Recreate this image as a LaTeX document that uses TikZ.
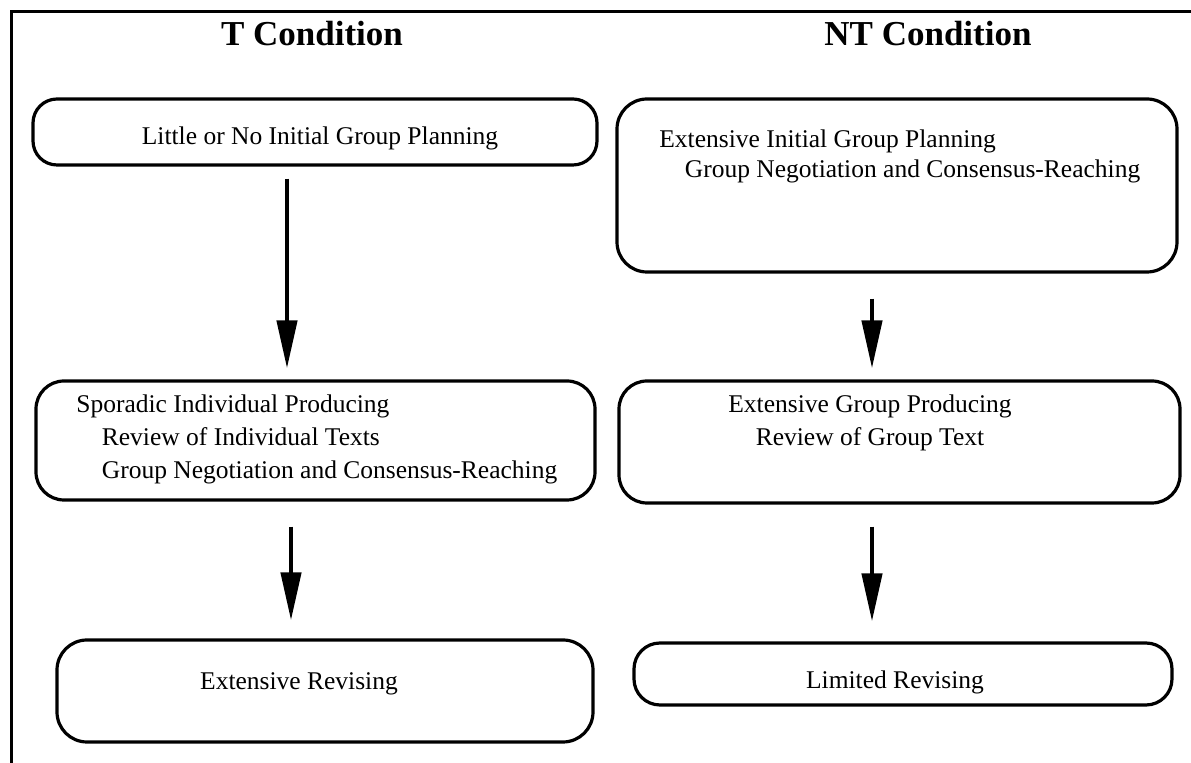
\documentclass[tikz,border=0pt]{standalone}
\usepackage{fontspec}
\setmainfont{Liberation Serif}
\usetikzlibrary{arrows.meta,positioning,calc}

\begin{document}
\begin{tikzpicture}[x=0.5pt, y=-0.5pt,
    stage/.style={draw, line width=1.6pt, rounded corners=13pt, inner sep=0pt},
    txt/.style={inner sep=0pt, font=\fontsize{12.75}{16.5}\selectfont},
    cond/.style={inner sep=0pt, font=\fontsize{17.5}{21}\selectfont\bfseries},
    flow/.style={line width=2.2pt, -{Triangle[length=24pt,width=10pt]}}]
  \useasboundingbox (0,0) rectangle (1191,763);
  \draw[line width=1.5pt] (11,763) -- (11,12) -- (1191,12);

  \node[cond, anchor=base] (tcond) at (312,46) {T Condition};
  \node[cond, anchor=base] (ntcond) at (928,46) {NT Condition};

  % T condition
  \node[stage, rounded corners=12pt, minimum width=282pt, minimum height=33pt] (t1) at (315,132) {};
  \node[txt, anchor=base] (t1_txt) at (320,145) {Little or No Initial Group Planning};
  \node[stage, rounded corners=14pt, minimum width=279.5pt, minimum height=59.5pt] (t2) at (315.5,440.5) {};
  \node[txt, anchor=base west] (t2_txt) at (76,413) {\begin{tabular}[t]{@{}l@{}} Sporadic Individual Producing \\ \quad Review of Individual Texts \\ \quad Group Negotiation and Consensus-Reaching \end{tabular}};
  \node[stage, rounded corners=15pt, minimum width=268pt, minimum height=51pt] (t3) at (325,691) {};
  \node[txt, anchor=base] (t3_txt) at (299,690) {Extensive Revising};

  % NT condition
  \node[stage, rounded corners=15pt, minimum width=280pt, minimum height=86.5pt] (nt1) at (897,185.5) {};
  \node[txt, anchor=base west, font=\fontsize{12.75}{15}\selectfont] (nt1_txt) at (659,148) {\begin{tabular}[t]{@{}l@{}} Extensive Initial Group Planning \\ \quad Group Negotiation and Consensus-Reaching \end{tabular}};
  \node[stage, rounded corners=14pt, minimum width=280.5pt, minimum height=61pt] (nt2) at (899.5,442) {};
  \node[txt, anchor=base] (nt2_txt) at (870,413) {\begin{tabular}[t]{@{}c@{}} Extensive Group Producing \\ Review of Group Text \end{tabular}};
  \node[stage, minimum width=269pt, minimum height=31pt] (nt3) at (903,674) {};
  \node[txt, anchor=base] (nt3_txt) at (895,689) {Limited Revising};

  \coordinate (colT1) at (287,0);
  \coordinate (colT2) at (291,0);
  \coordinate (colNT) at (872,0);
  \draw[flow, shorten <=6pt, shorten >=5.5pt] (t1.south -| colT1) -- (t2.north -| colT1);
  \draw[flow, shorten <=12.5pt, shorten >=9pt] (t2.south -| colT2) -- (t3.north -| colT2);
  \draw[flow, shorten <=12.5pt, shorten >=5.5pt] (nt1.south -| colNT) -- (nt2.north -| colNT);
  \draw[flow, shorten <=11pt, shorten >=10pt] (nt2.south -| colNT) -- (nt3.north -| colNT);
\end{tikzpicture}
\end{document}
